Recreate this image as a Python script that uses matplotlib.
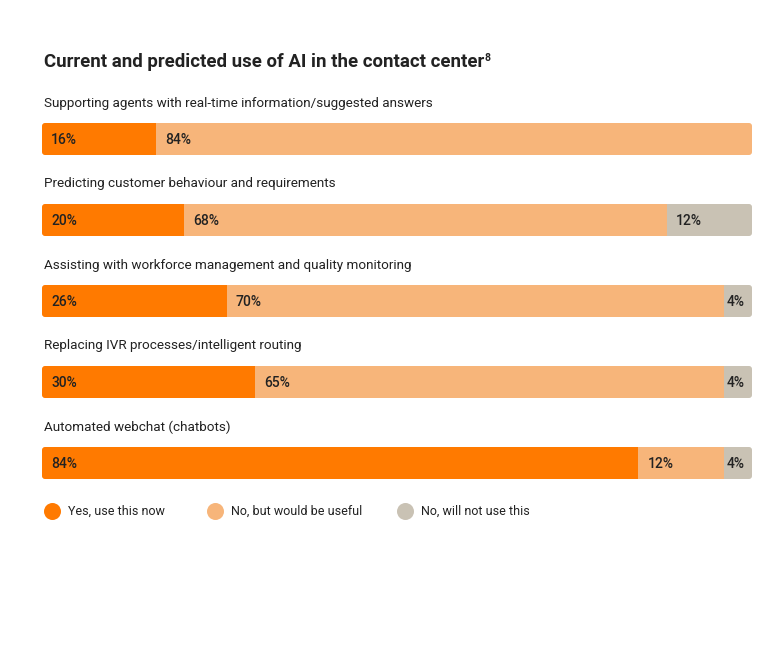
import matplotlib
matplotlib.use("Agg")
import matplotlib.pyplot as plt
from matplotlib.patches import FancyBboxPatch

plt.rcParams['font.family'] = ['Roboto', 'DejaVu Sans']

categories = [
    "Supporting agents with real-time information/suggested answers",
    "Predicting customer behaviour and requirements",
    "Assisting with workforce management and quality monitoring",
    "Replacing IVR processes/intelligent routing",
    "Automated webchat (chatbots)",
]
yes_now = [16, 20, 26, 30, 84]
no_useful = [84, 68, 70, 65, 12]
no_never = [0, 12, 4, 4, 4]
series_names = ["Yes, use this now", "No, but would be useful", "No, will not use this"]
colors = ["#FF7A00", "#F7B57A", "#C9C2B4"]
text_col = "#222222"

W, H = 780, 647
fig = plt.figure(figsize=(W / 100, H / 100), dpi=100)
ax = fig.add_axes([42 / W, 0, 710 / W, 1])
ax.set_xlim(0, 100)
ax.set_ylim(H, 0)
ax.axis("off")

px_x = 100 / 710  # data units per pixel in x
row0, step, bar_h = 139, 81, 32
for i, cat in enumerate(categories):
    y = row0 + step * i
    ax.text(0.3, y - 36, cat, fontsize=9.7, color=text_col, va="center", ha="left")
    clip = FancyBboxPatch((0, y - bar_h / 2), 100, bar_h,
                          boxstyle=f"round,pad=0,rounding_size={3 * px_x}",
                          mutation_aspect=1 / px_x, transform=ax.transData,
                          facecolor="none", edgecolor="none")
    ax.add_patch(clip)
    never_left = 100 - no_never[i]
    bars = []
    bars += ax.barh(y, yes_now[i], left=0, height=bar_h, color=colors[0], linewidth=0)
    bars += ax.barh(y, never_left - yes_now[i], left=yes_now[i], height=bar_h,
                    color=colors[1], linewidth=0)
    if no_never[i]:
        bars += ax.barh(y, no_never[i], left=never_left, height=bar_h,
                        color=colors[2], linewidth=0)
    for b in bars:
        b.set_clip_path(clip)
    lefts = [0, yes_now[i], never_left]
    vals = [yes_now[i], no_useful[i], no_never[i]]
    for left, v in zip(lefts, vals):
        if v == 0:
            continue
        pad = 1.3 if v > 5 else 0.4
        ax.text(left + pad, y + 1, f"{v}%", fontsize=10, fontweight="medium",
                color=text_col, va="center", ha="left")

# title with superscript
title = fig.text(44 / W, 1 - 62 / H, "Current and predicted use of AI in the contact center",
                 fontsize=13.4, fontweight="bold", color=text_col, va="center", ha="left")
fig.canvas.draw()
bb = title.get_window_extent()
fig.text(bb.x1 / W, 1 - 58 / H, "8", fontsize=7.5, fontweight="bold",
         color=text_col, va="center", ha="left")

# legend
leg_x = [52, 215, 405]
for lx, name, c in zip(leg_x, series_names, colors):
    ax.scatter([(lx - 42) * px_x], [511], s=150, color=c, linewidths=0, clip_on=False)
    ax.text((lx + 16 - 42) * px_x, 511, name, fontsize=9, color=text_col,
            va="center", ha="left")

fig.savefig("out.png", dpi=100, facecolor="white")
